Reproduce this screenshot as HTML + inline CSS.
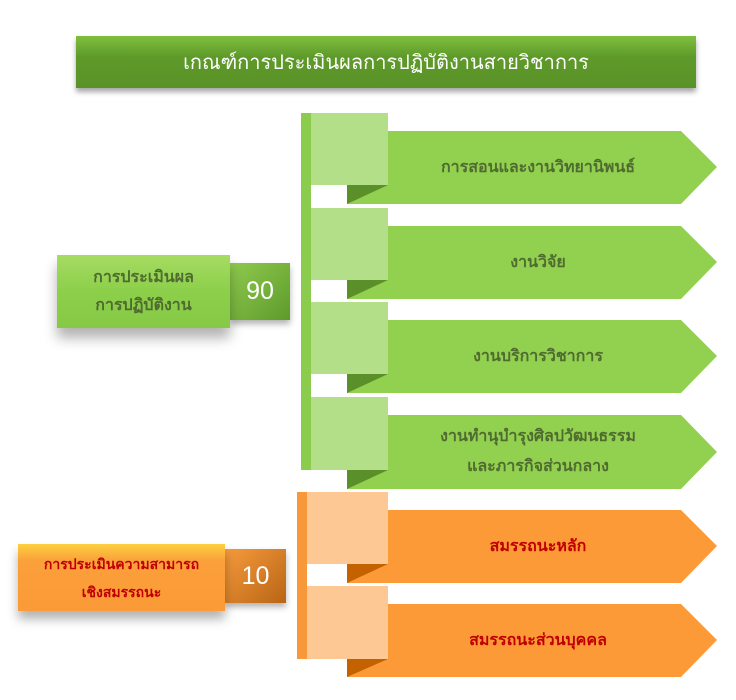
<!DOCTYPE html>
<html><head><meta charset="utf-8"><style>
body{margin:0;width:736px;height:700px;background:#fff;position:relative;overflow:hidden;font-family:"Liberation Sans","Noto Sans CJK SC",sans-serif}
.a{position:absolute}
.t{display:flex;align-items:center;justify-content:center;text-align:center}
.g{color:#4f6b2f;font-size:16px;font-weight:bold}
.r{color:#c00000;font-size:16px;font-weight:bold}
</style></head><body>
<div class="a t" style="left:76px;top:36px;width:620px;height:52px;background:linear-gradient(#7fbf3e,#5e9a2a 40%,#5a9227);box-shadow:0 4px 5px rgba(0,0,0,.35);color:#fff;font-size:20px">เกณฑ์การประเมินผลการปฏิบัติงานสายวิชาการ</div>

<div class="a" style="left:301px;top:113px;width:10px;height:357px;background:#8ccc4c"></div>
<div class="a" style="left:297px;top:492px;width:10px;height:167px;background:#f7993a"></div>

<svg class="a" style="left:0;top:0" width="736" height="700">
<g fill="#92d050"><polygon points="347,131 681,131 717,167 681,204 347,204"/><polygon points="347,226 681,226 717,262 681,299 347,299"/><polygon points="347,320 681,320 717,356 681,393 347,393"/><polygon points="347,415 681,415 717,452 681,489 347,489"/></g>
<g fill="#5a8f2a"><polygon points="347,185 388,185 347,204"/><polygon points="347,280 388,280 347,299"/><polygon points="347,374 388,374 347,393"/><polygon points="347,470 388,470 347,489"/></g>
<g fill="#b3df88"><rect x="311" y="113" width="77" height="72"/><rect x="311" y="208" width="77" height="72"/><rect x="311" y="302" width="77" height="72"/><rect x="311" y="397" width="77" height="73"/></g>
<g fill="#fd9a38"><polygon points="347,510 681,510 717,546 681,583 347,583"/><polygon points="347,604 681,604 717,640 681,677 347,677"/></g>
<g fill="#c46100"><polygon points="347,564 388,564 347,583"/><polygon points="347,659 388,659 347,677"/></g>
<g fill="#fec895"><rect x="307" y="492" width="81" height="72"/><rect x="307" y="586" width="81" height="73"/></g>
</svg>

<div class="a t g" style="left:388px;top:131px;width:300px;height:73px">การสอนและงานวิทยานิพนธ์</div>
<div class="a t g" style="left:388px;top:226px;width:300px;height:73px">งานวิจัย</div>
<div class="a t g" style="left:388px;top:320px;width:300px;height:73px">งานบริการวิชาการ</div>
<div class="a t g" style="left:388px;top:415px;width:300px;height:74px;line-height:30px">งานทำนุบำรุงศิลปวัฒนธรรม<br>และภารกิจส่วนกลาง</div>
<div class="a t r" style="left:388px;top:510px;width:300px;height:73px">สมรรถนะหลัก</div>
<div class="a t r" style="left:388px;top:604px;width:300px;height:73px">สมรรถนะส่วนบุคคล</div>

<div class="a t" style="left:230px;top:263px;width:60px;height:57px;background:linear-gradient(135deg,#8fcb4f,#5e9a2a);color:#fff;font-size:25px;box-shadow:0 4px 6px rgba(0,0,0,.3)">90</div>
<div class="a t g" style="left:57px;top:255px;width:173px;height:73px;background:linear-gradient(#a6dc62,#8ccf4a 50%,#86c945);line-height:28px;box-shadow:0 10px 12px rgba(0,0,0,.3)">การประเมินผล<br>การปฏิบัติงาน</div>

<div class="a t" style="left:225px;top:549px;width:61px;height:54px;background:linear-gradient(135deg,#f79a3c,#b86516);color:#fff;font-size:25px;box-shadow:0 4px 6px rgba(0,0,0,.3)">10</div>
<div class="a t" style="left:18px;top:544px;width:207px;height:67px;background:linear-gradient(#fcd040,#fba03a 25%,#fb9a38);color:#c00000;font-size:14px;line-height:28px;font-weight:bold;box-shadow:0 8px 10px rgba(0,0,0,.3)">การประเมินความสามารถ<br>เชิงสมรรถนะ</div>
</body></html>
